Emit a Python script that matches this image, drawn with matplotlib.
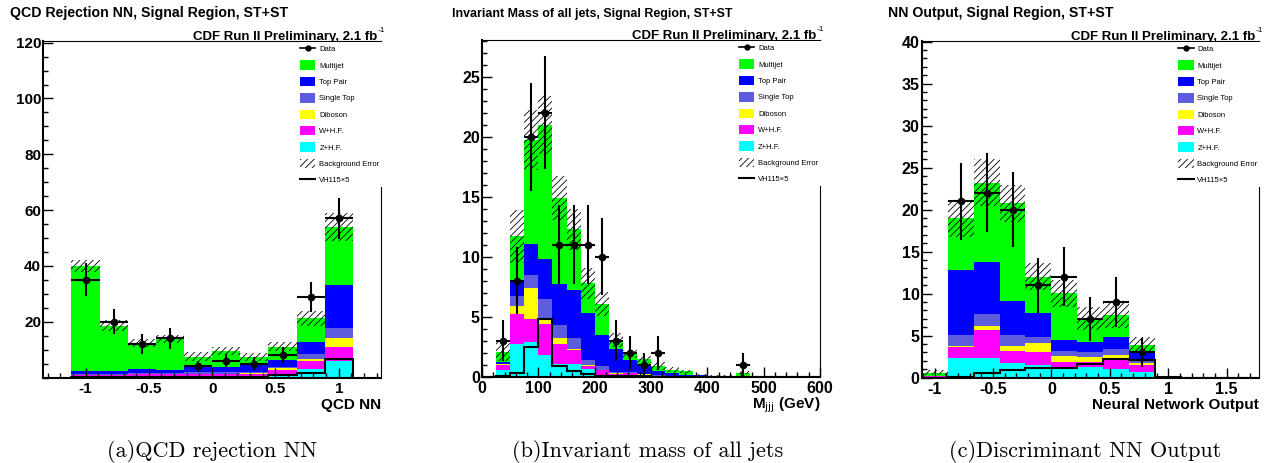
import matplotlib
matplotlib.use("Agg")
import matplotlib.pyplot as plt
import numpy as np
from matplotlib.lines import Line2D
from matplotlib.patches import Patch
from matplotlib.ticker import MultipleLocator, FixedLocator, FuncFormatter

plt.rcParams["font.family"] = ["Liberation Sans", "DejaVu Sans"]
plt.rcParams["axes.unicode_minus"] = False
plt.rcParams["hatch.linewidth"] = 0.6

# ---- processes, bottom to top of the stack
process_names = ["Z+H.F.", "W+H.F.", "Diboson", "Single Top", "Top Pair", "Multijet"]
process_colors = ["#00ffff", "#ff00ff", "#ffff00", "#5c5cdc", "#0000ff", "#00ff00"]

# ---- (a) QCD rejection NN, 10 bins from -10/9 to 10/9
qcd_zhf = [0.3, 0.3, 0.3, 0.3, 0.3, 0.3, 0.4, 0.8, 3.0, 5.8]
qcd_whf = [0.6, 0.5, 0.8, 0.8, 0.9, 0.9, 1.0, 1.9, 3.0, 5.1]
qcd_diboson = [0.1, 0.1, 0.1, 0.1, 0.2, 0.2, 0.2, 0.6, 0.6, 3.3]
qcd_singletop = [0.3, 0.3, 0.4, 0.4, 0.4, 0.4, 0.4, 0.5, 1.9, 3.5]
qcd_toppair = [1.1, 1.0, 1.4, 1.15, 1.8, 1.9, 2.5, 2.5, 4.1, 15.3]
qcd_multijet = [37.6, 16.3, 9.4, 11.05, 3.9, 5.9, 2.8, 4.8, 8.6, 21.0]
qcd_bkg_err = [2.2, 2.0, 1.3, 1.4, 1.5, 1.5, 1.5, 1.6, 2.6, 5.0]
qcd_signal = [0.1, 0.1, 0.1, 0.1, 0.2, 0.2, 0.3, 0.8, 1.6, 6.8]
qcd_data = [35, 20, 12, 14, 4, 6, 5, 8, 29, 57]
qcd_data_err = [5.9, 4.5, 3.5, 3.7, 2.0, 2.4, 2.2, 2.8, 5.4, 7.5]

# ---- (b) invariant mass of all jets, 25 GeV bins from 0 to 600
mjjj_zhf = [0, 0.6, 2.7, 2.9, 1.8, 1.06, 1.1, 0.65, 0.1, 0.05, 0.05, 0.03, 0.02,
            0.01, 0.01, 0, 0, 0, 0, 0, 0, 0, 0, 0]
mjjj_whf = [0, 0.4, 2.5, 1.9, 2.6, 1.64, 1.1, 0.25, 0.45, 0.2, 0.25, 0.15, 0.05,
            0.03, 0.02, 0.01, 0, 0, 0, 0, 0, 0, 0, 0]
mjjj_diboson = [0, 0.05, 0.7, 2.6, 0.4, 0.5, 0.15, 0.1, 0.05, 0.02, 0.02, 0.02, 0,
                0, 0, 0, 0, 0, 0, 0, 0, 0, 0, 0]
mjjj_singletop = [0, 0.05, 0.8, 1.1, 1.7, 1.1, 0.85, 0.4, 0.3, 0.1, 0.08, 0.05, 0.05,
                  0.03, 0.02, 0.05, 0.03, 0.02, 0.02, 0, 0, 0, 0, 0]
mjjj_toppair = [0, 0.1, 1.3, 2.6, 3.3, 3.4, 4.0, 3.9, 2.6, 1.9, 1.0, 0.85, 0.35,
                0.25, 0.1, 0.05, 0.04, 0.03, 0.03, 0, 0, 0, 0, 0]
mjjj_multijet = [0, 0.9, 3.7, 8.6, 11.2, 7.2, 5.1, 2.5, 2.6, 0.8, 0.5, 0.35, 0.4,
                 0.25, 0.3, 0.05, 0.03, 0.05, 0.3, 0, 0, 0, 0, 0]
mjjj_bkg_err = [0, 0.8, 2.2, 2.5, 2.4, 1.8, 1.7, 1.3, 1.0, 0.6, 0.35, 0.3, 0.35,
                0.2, 0.15, 0.1, 0.05, 0.05, 0.1, 0, 0, 0, 0, 0]
mjjj_signal = [0, 0.05, 0.33, 2.45, 4.8, 0.9, 0.5, 0.25, 0.1, 0.05, 0.03, 0.02, 0.01,
               0, 0, 0, 0, 0, 0, 0, 0, 0, 0, 0]
mjjj_data = [0, 3, 8, 20, 22, 11, 11, 11, 10, 3, 2, 1, 2, 0, 0, 0, 0, 0, 1, 0, 0, 0, 0, 0]
mjjj_data_err = [0, 1.7, 2.8, 4.5, 4.7, 3.3, 3.3, 3.3, 3.2, 1.7, 1.4, 1.0, 1.4,
                 0, 0, 0, 0, 0, 1.0, 0, 0, 0, 0, 0]

# ---- (c) discriminant NN output, 13 bins from -10/9 to 16/9
nn_zhf = [0.05, 2.3, 2.4, 1.8, 1.5, 1.1, 1.3, 1.0, 0.7, 0.02, 0, 0, 0]
nn_whf = [0.15, 1.3, 3.3, 1.35, 1.6, 0.8, 0.55, 1.1, 0.8, 0.02, 0, 0, 0]
nn_diboson = [0.0, 0.2, 0.45, 0.6, 1.0, 0.7, 0.65, 0.6, 0.3, 0, 0, 0, 0]
nn_singletop = [0.0, 1.3, 1.45, 1.3, 0.8, 0.6, 0.5, 0.7, 0.2, 0.01, 0, 0, 0]
nn_toppair = [0.05, 7.7, 6.2, 4.1, 2.85, 1.3, 1.3, 1.5, 1.1, 0.02, 0, 0, 0]
nn_multijet = [0.35, 6.2, 9.4, 11.6, 4.25, 5.55, 2.77, 2.55, 0.8, 0.05, 0, 0, 0]
nn_bkg_err = [0.3, 2.2, 2.8, 2.2, 1.6, 1.6, 1.4, 1.5, 0.9, 0.1, 0, 0, 0]
nn_signal = [0.0, 0.05, 0.6, 0.92, 1.1, 1.1, 1.6, 2.2, 2.1, 0.1, 0, 0, 0]
nn_data = [0, 21, 22, 20, 11, 12, 7, 9, 3, 0, 0, 0, 0]
nn_data_err = [0, 4.6, 4.7, 4.5, 3.3, 3.5, 2.6, 3.0, 1.7, 0, 0, 0, 0]

W, H = 1270, 463


def nice(v, pos):
    return f"{v + 0.0:g}"


def axes_rect(left, right, top, bottom):
    return [left / W, 1 - bottom / H, (right - left) / W, (bottom - top) / H]


def draw_panel(ax, edges, stack, bkg_err, signal, data, data_err):
    edges = np.asarray(edges)
    centers = 0.5 * (edges[1:] + edges[:-1])
    width = edges[1] - edges[0]

    cum = np.zeros(len(centers))
    for values, color in zip(stack, process_colors):
        top = cum + np.asarray(values)
        ax.stairs(top, edges, baseline=cum, fill=True, color=color, linewidth=0)
        cum = top

    err = np.asarray(bkg_err)
    ax.bar(centers, 2 * err, width=width, bottom=cum - err, facecolor="none",
           edgecolor="black", hatch="/////", linewidth=0)

    ax.stairs(signal, edges, color="black", linewidth=1.5)

    data = np.asarray(data)
    mask = data > 0
    ax.errorbar(centers[mask], data[mask], xerr=width / 2,
                yerr=np.asarray(data_err)[mask], fmt="o", color="black",
                markersize=4.5, elinewidth=1.5, capsize=0)

    handles = [Line2D([], [], color="black", marker="o", markersize=3.5, lw=1.2)]
    labels = ["Data"]
    for name, color in zip(process_names[::-1], process_colors[::-1]):
        handles.append(Patch(facecolor=color, edgecolor="none"))
        labels.append(name)
    handles.append(Patch(facecolor="white", edgecolor="black", hatch="/////", linewidth=0))
    labels.append("Background Error")
    handles.append(Line2D([], [], color="black", lw=1.5))
    labels.append("VH115×5")
    ax.legend(handles, labels, loc="upper left", mode="expand",
              bbox_to_anchor=(0.755, 0.3, 0.25, 0.697), borderaxespad=0,
              fontsize=5.5, handlelength=2.0, handleheight=1.5,
              labelspacing=0.93, handletextpad=0.5, borderpad=0.25,
              frameon=True, facecolor="white", edgecolor="none", fancybox=False,
              framealpha=1)

    ax.tick_params(which="both", direction="in", top=False, right=False)
    ax.tick_params(which="major", length=7, width=1)
    ax.tick_params(which="minor", length=3.5, width=1)
    ax.tick_params(axis="x", pad=3)
    ax.tick_params(axis="y", pad=1.5)
    ax.spines["left"].set_linewidth(1.5)
    ax.spines["bottom"].set_linewidth(1.5)
    ax.spines["top"].set_linewidth(0.8)
    ax.spines["right"].set_linewidth(0.8)
    ax.xaxis.set_major_formatter(FuncFormatter(nice))
    ax.yaxis.set_major_formatter(FuncFormatter(nice))

    ax.annotate("CDF Run II Preliminary, 2.1 fb", xy=(1, 1), xycoords="axes fraction",
                xytext=(-2.5, 1), textcoords="offset points", ha="right",
                va="baseline", fontsize=9.5, fontweight="bold")
    ax.annotate("-1", xy=(1, 1), xycoords="axes fraction", xytext=(-2.5, 6.7),
                textcoords="offset points", ha="left", va="baseline", fontsize=6)


def set_labels(ax, xlabel, size):
    ax.annotate(xlabel, xy=(1, 0), xycoords="axes fraction", xytext=(0, -22.5),
                textcoords="offset points", ha="right", va="baseline",
                fontsize=11, fontweight="bold")
    for lab in ax.get_xticklabels() + ax.get_yticklabels():
        lab.set_fontweight("bold")
        lab.set_fontsize(size)


def main():
    fig = plt.figure(figsize=(W / 100, H / 100), dpi=100)

    # (a)
    ax1 = fig.add_axes(axes_rect(43.3, 381, 41, 377.5))
    qcd_edges = np.linspace(-10 / 9, 10 / 9, 11)
    draw_panel(ax1, qcd_edges,
               [qcd_zhf, qcd_whf, qcd_diboson, qcd_singletop, qcd_toppair, qcd_multijet],
               qcd_bkg_err, qcd_signal, qcd_data, qcd_data_err)
    ax1.set_xlim(-4 / 3, 4 / 3)
    ax1.set_ylim(0, 120.6)
    ax1.xaxis.set_major_locator(MultipleLocator(0.5))
    ax1.xaxis.set_minor_locator(MultipleLocator(0.1))
    ax1.yaxis.set_major_locator(FixedLocator([20, 40, 60, 80, 100, 120]))
    ax1.yaxis.set_minor_locator(MultipleLocator(5))
    set_labels(ax1, "QCD NN", 11)

    # (b)
    ax2 = fig.add_axes(axes_rect(482, 820, 40, 376.7))
    mjjj_edges = np.arange(0, 601, 25)
    draw_panel(ax2, mjjj_edges,
               [mjjj_zhf, mjjj_whf, mjjj_diboson, mjjj_singletop, mjjj_toppair, mjjj_multijet],
               mjjj_bkg_err, mjjj_signal, mjjj_data, mjjj_data_err)
    ax2.set_xlim(0, 600)
    ax2.set_ylim(0, 28.06)
    ax2.xaxis.set_major_locator(MultipleLocator(100))
    ax2.xaxis.set_minor_locator(MultipleLocator(20))
    ax2.yaxis.set_major_locator(MultipleLocator(5))
    ax2.yaxis.set_minor_locator(MultipleLocator(1))
    set_labels(ax2, r"M$_{\rm jjj}$ (GeV)", 11.5)

    # (c)
    ax3 = fig.add_axes(axes_rect(921.7, 1259, 41, 377.7))
    nn_edges = np.linspace(-10 / 9, 16 / 9, 14)
    draw_panel(ax3, nn_edges,
               [nn_zhf, nn_whf, nn_diboson, nn_singletop, nn_toppair, nn_multijet],
               nn_bkg_err, nn_signal, nn_data, nn_data_err)
    ax3.set_xlim(-10 / 9, 16 / 9)
    ax3.set_ylim(0, 40.08)
    ax3.xaxis.set_major_locator(MultipleLocator(0.5))
    ax3.xaxis.set_minor_locator(MultipleLocator(0.1))
    ax3.yaxis.set_major_locator(MultipleLocator(5))
    ax3.yaxis.set_minor_locator(MultipleLocator(1))
    set_labels(ax3, "Neural Network Output", 11.5)

    # panel titles
    ty = 1 - 17.3 / H
    fig.text(10 / W, ty, "QCD Rejection NN, Signal Region, ST+ST", fontsize=10.2,
             fontweight="bold", va="baseline")
    fig.text(452 / W, ty, "Invariant Mass of all jets, Signal Region, ST+ST",
             fontsize=8.9, fontweight="bold", va="baseline")
    fig.text(888 / W, ty, "NN Output, Signal Region, ST+ST", fontsize=10.2,
             fontweight="bold", va="baseline")

    # captions
    cy = 1 - 457 / H
    for x, text in [(212, "(a)QCD rejection NN"), (648, "(b)Invariant mass of all jets"),
                    (1085, "(c)Discriminant NN Output")]:
        fig.text(x / W, cy, text, family="cmr10", fontsize=16, ha="center",
                 va="baseline")

    fig.savefig("out.png", dpi=100)
    plt.close(fig)


if __name__ == "__main__":
    main()
